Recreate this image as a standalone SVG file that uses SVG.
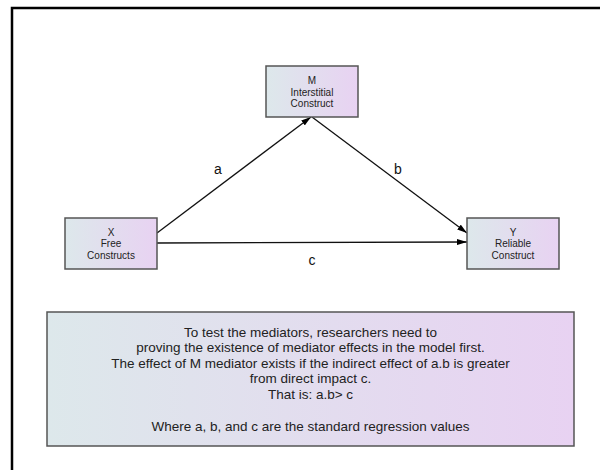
<svg xmlns="http://www.w3.org/2000/svg" width="600" height="470" viewBox="0 0 600 470">
<defs>
<linearGradient id="g" x1="0" y1="0" x2="1" y2="0">
<stop offset="0" stop-color="#dde8eb"/>
<stop offset="1" stop-color="#e8d2f2"/>
</linearGradient>
<marker id="ah" viewBox="0 0 10 6" refX="10" refY="3" markerWidth="10" markerHeight="6" markerUnits="userSpaceOnUse" orient="auto">
<path d="M0,0 L10,3 L0,6 Z" fill="#000"/>
</marker>
<style>
.box{fill:url(#g);stroke:#555;stroke-width:1.5}
.nt{font-family:"Liberation Sans",Arial,sans-serif;font-size:10px;fill:#222;text-anchor:middle}
.lbl{font-family:"Liberation Sans",Arial,sans-serif;font-size:14px;fill:#111;text-anchor:middle}
.bt{font-family:"Liberation Sans",Arial,sans-serif;font-size:13.5px;fill:#222;text-anchor:middle}
.conn{stroke:#111;stroke-width:1.3;fill:none;marker-end:url(#ah)}
</style>
</defs>
<rect width="600" height="470" fill="#fff"/>
<path d="M12,470 L12,8 L600,8" fill="none" stroke="#000" stroke-width="2.5"/>
<g id="connectors">
<line class="conn" x1="157" y1="233" x2="311" y2="117"/>
<line class="conn" x1="312" y1="117" x2="467" y2="233"/>
<line class="conn" x1="157" y1="243" x2="467" y2="242"/>
<text class="lbl" x="218" y="174">a</text>
<text class="lbl" x="398" y="174">b</text>
<text class="lbl" x="312" y="265">c</text>
</g>
<g id="M">
<rect class="box" x="266" y="66" width="92" height="51"/>
<text class="nt" x="312" y="83.5">M</text>
<text class="nt" x="312" y="95.5">Interstitial</text>
<text class="nt" x="312" y="107">Construct</text>
</g>
<g id="X">
<rect class="box" x="65" y="218" width="92" height="51"/>
<text class="nt" x="111" y="235.5">X</text>
<text class="nt" x="111" y="247">Free</text>
<text class="nt" x="111" y="258.5">Constructs</text>
</g>
<g id="Y">
<rect class="box" x="467" y="218" width="92" height="51"/>
<text class="nt" x="513" y="235.5">Y</text>
<text class="nt" x="513" y="247">Reliable</text>
<text class="nt" x="513" y="258.5">Construct</text>
</g>
<g id="note">
<rect class="box" x="47" y="312" width="527" height="134"/>
<text class="bt" x="310.5" y="337">To test the mediators, researchers need to</text>
<text class="bt" x="310.5" y="352">proving the existence of mediator effects in the model first.</text>
<text class="bt" x="310.5" y="368">The effect of M mediator exists if the indirect effect of a.b is greater</text>
<text class="bt" x="310.5" y="383">from direct impact c.</text>
<text class="bt" x="310.5" y="399">That is: a.b&gt; c</text>
<text class="bt" x="310.5" y="431">Where a, b, and c are the standard regression values</text>
</g>
</svg>
